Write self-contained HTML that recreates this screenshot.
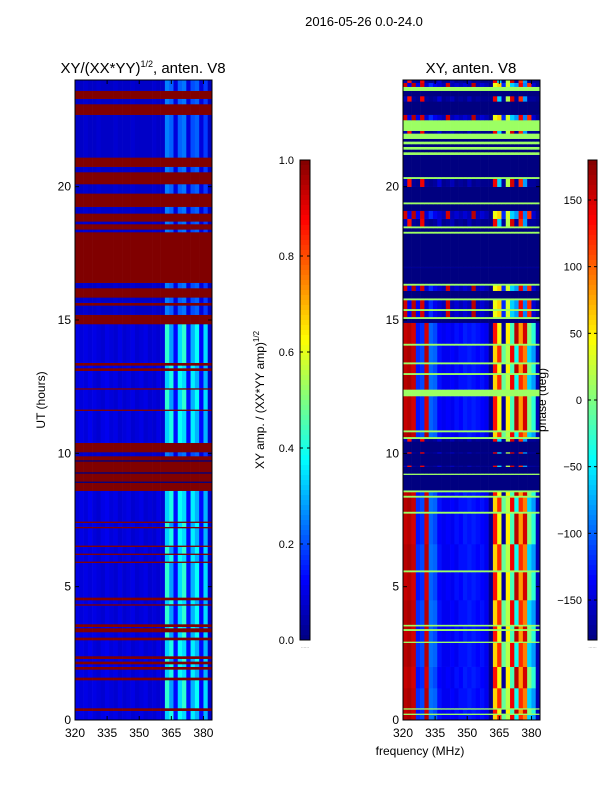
<!DOCTYPE html>
<html><head><meta charset="utf-8">
<style>
body{margin:0;background:#fff;}
svg{display:block;font-family:"Liberation Sans","DejaVu Sans",sans-serif;}
</style></head>
<body>
<svg id="fig" width="600" height="800" viewBox="0 0 600 800" xmlns="http://www.w3.org/2000/svg">
<rect x="0" y="0" width="600" height="800" fill="#fff"/>
<text x="364" y="26" font-size="13" text-anchor="middle">2016-05-26 0.0-24.0</text>
<text x="143" y="73" font-size="15" text-anchor="middle">XY/(XX*YY)<tspan font-size="9" dy="-6">1/2</tspan><tspan dy="6">, anten. V8</tspan></text>
<text x="471" y="73" font-size="15" text-anchor="middle">XY, anten. V8</text>
<text transform="translate(45,400) rotate(-90)" font-size="12" text-anchor="middle">UT (hours)</text>
<text x="420" y="755" font-size="12" text-anchor="middle">frequency (MHz)</text>
<text transform="translate(264,400) rotate(-90)" font-size="12" text-anchor="middle">XY amp. / (XX*YY amp)<tspan font-size="8" dy="-5">1/2</tspan></text>
<text transform="translate(546,400) rotate(-90)" font-size="12" text-anchor="middle">phase (deg)</text>
<g id="left"></g>
<g id="right"></g>
<g id="cb1"></g>
<g id="cb2"></g>
<g id="axes"></g>
</svg>
<script>
// ---- data ----
const freqEdges = [320,322,324,326,328,330,332,334,336,338,340,342,344,346,348,350,352,354,356,358,360,362,364,366,368,370,372,374,376,378,380,382,384];
const xTicks = [320,335,350,365,380];
const yTicks = [0,5,10,15,20];
const ampTicks = [0.0,0.2,0.4,0.6,0.8,1.0];
const phaseTicks = [-150,-100,-50,0,50,100,150];
// amplitude column profiles (one value per 2 MHz column)
const ampA = [0.09,0.1,0.09,0.11,0.09,0.08,0.1,0.11,0.09,0.1,0.08,0.09,0.1,0.08,0.09,0.1,0.08,0.09,0.08,0.1,0.08,0.33,0.4,0.14,0.38,0.34,0.13,0.36,0.3,0.13,0.3,0.07];
const ampB = [0.1,0.09,0.1,0.09,0.1,0.09,0.08,0.1,0.09,0.08,0.1,0.08,0.09,0.1,0.08,0.09,0.1,0.08,0.09,0.08,0.09,0.42,0.28,0.13,0.34,0.42,0.14,0.3,0.38,0.12,0.34,0.07];
const ampC = [0.07,0.07,0.08,0.07,0.07,0.08,0.07,0.07,0.07,0.08,0.07,0.07,0.07,0.08,0.07,0.07,0.07,0.07,0.08,0.07,0.07,0.25,0.22,0.09,0.22,0.24,0.09,0.2,0.22,0.09,0.18,0.06];
// left panel time segments [start hour, end hour, kind]
const ampSegments = [[0,0.35,'A'],[0.35,0.45,'F'],[0.45,1.5,'B'],[1.5,1.6,'F'],[1.6,1.9,'A'],[1.9,2.0,'F'],[2.0,2.1,'A'],[2.1,2.2,'F'],[2.2,2.3,'B'],[2.3,2.4,'F'],[2.4,3.0,'A'],[3.0,3.1,'F'],[3.1,3.3,'B'],[3.3,3.45,'F'],[3.45,3.5,'A'],[3.5,3.6,'F'],[3.6,4.3,'B'],[4.3,4.35,'F'],[4.35,4.5,'A'],[4.5,4.6,'F'],[4.6,5.9,'B'],[5.9,5.95,'F'],[5.95,6.2,'A'],[6.2,6.25,'F'],[6.25,6.5,'B'],[6.5,6.55,'F'],[6.55,7.2,'A'],[7.2,7.25,'F'],[7.25,7.4,'B'],[7.4,7.45,'F'],[7.45,8.6,'A'],[8.6,8.9,'F'],[8.9,8.95,'Z'],[8.95,9.25,'F'],[9.25,9.3,'Z'],[9.3,9.7,'F'],[9.7,9.75,'Z'],[9.75,9.9,'F'],[9.9,10.05,'C'],[10.05,10.4,'F'],[10.4,11.6,'A'],[11.6,11.65,'F'],[11.65,12.4,'B'],[12.4,12.45,'F'],[12.45,13.1,'A'],[13.1,13.2,'F'],[13.2,13.3,'A'],[13.3,13.4,'F'],[13.4,14.85,'B'],[14.85,15.2,'F'],[15.2,15.55,'C'],[15.55,15.65,'F'],[15.65,15.85,'C'],[15.85,16.2,'F'],[16.2,16.4,'C'],[16.4,18.3,'F'],[18.3,18.4,'C'],[18.4,18.6,'F'],[18.6,18.7,'C'],[18.7,19.0,'F'],[19.0,19.25,'C'],[19.25,19.75,'F'],[19.75,20.1,'C'],[20.1,20.55,'F'],[20.55,20.75,'C'],[20.75,21.1,'F'],[21.1,22.7,'C'],[22.7,23.1,'F'],[23.1,23.3,'C'],[23.3,23.6,'F'],[23.6,24,'C']];
// phase column profiles (deg)
const phaseA = [160,165,155,-120,-110,160,-95,-100,-130,-140,-140,-135,-140,-130,-130,-125,-130,-135,-130,-140,-175,60,120,-10,20,140,-40,120,90,-60,-80,-160];
const phaseB = [155,160,150,-130,-120,150,-100,-110,-135,-140,-135,-140,-130,-135,-125,-130,-125,-130,-135,-140,-175,130,40,-170,50,-20,160,80,150,0,-30,-160];
const phaseP = [150,-140,160,-140,150,-150,-120,-140,-150,-160,150,-160,-150,-160,-150,-160,160,-160,-150,-160,-175,40,60,-120,30,-60,-80,140,-90,120,-150,-170];
const phaseS = [-160,130,-170,-175,140,-170,-175,-170,-150,-175,-170,-160,-175,-170,-175,-160,-175,-170,-175,-175,-175,140,-60,-170,20,150,-170,120,-80,-170,-170,-175];
// right panel time segments [start hour, end hour, kind]; N=no data, G=green flag line
const phaseSegments = [[0,0.2,'A'],[0.2,0.25,'G'],[0.25,0.4,'B'],[0.4,0.45,'G'],[0.45,1.2,'A'],[1.2,2.0,'B'],[2.0,2.9,'A'],[2.9,2.95,'G'],[2.95,3.35,'B'],[3.35,3.42,'G'],[3.42,3.52,'B'],[3.52,3.58,'G'],[3.58,4.5,'A'],[4.5,5.55,'B'],[5.55,5.62,'G'],[5.62,6.6,'A'],[6.6,7.75,'B'],[7.75,7.82,'G'],[7.82,8.35,'A'],[8.35,8.42,'G'],[8.42,8.55,'B'],[8.55,8.62,'G'],[8.62,9.2,'N'],[9.2,9.25,'G'],[9.25,9.5,'N'],[9.5,9.55,'S'],[9.55,10.0,'N'],[10.0,10.05,'S'],[10.05,10.45,'N'],[10.45,10.55,'S'],[10.55,10.62,'G'],[10.62,10.8,'A'],[10.8,10.87,'G'],[10.87,12.15,'B'],[12.15,12.4,'G'],[12.4,12.95,'A'],[12.95,13.02,'G'],[13.02,13.35,'B'],[13.35,13.42,'G'],[13.42,14.05,'A'],[14.05,14.12,'G'],[14.12,14.9,'B'],[14.9,15.05,'N'],[15.05,15.12,'G'],[15.12,15.35,'P'],[15.35,15.42,'G'],[15.42,15.75,'P'],[15.75,15.82,'G'],[15.82,16.1,'N'],[16.1,16.3,'P'],[16.3,16.37,'G'],[16.37,16.95,'N'],[16.95,17.0,'W'],[17.0,18.25,'N'],[18.25,18.32,'G'],[18.32,18.45,'N'],[18.45,18.52,'G'],[18.52,18.8,'S'],[18.8,19.1,'P'],[19.1,19.35,'N'],[19.35,19.42,'G'],[19.42,20.0,'N'],[20.0,20.3,'S'],[20.3,20.37,'G'],[20.37,21.2,'N'],[21.2,21.3,'G'],[21.3,21.4,'N'],[21.4,21.5,'G'],[21.5,21.6,'N'],[21.6,21.7,'G'],[21.7,21.8,'N'],[21.8,22.0,'G'],[22.0,22.1,'S'],[22.1,22.5,'G'],[22.5,22.7,'P'],[22.7,23.2,'N'],[23.2,23.4,'S'],[23.4,23.6,'N'],[23.6,23.75,'G'],[23.75,23.9,'P'],[23.9,24,'S']];

// ---- helpers ----
const NS='http://www.w3.org/2000/svg';
function jet(v){v=Math.max(0,Math.min(1,v));const c=t=>Math.round(255*Math.max(0,Math.min(1,1.5-Math.abs(4*v-t))));return `rgb(${c(3)},${c(2)},${c(1)})`;}
function mk(tag,attrs,parent){const e=document.createElementNS(NS,tag);for(const k in attrs)e.setAttribute(k,attrs[k]);parent.appendChild(e);return e;}
const Y0=720,Y1=80;
const yScale=h=>Y0-(h/24)*(Y0-Y1);
const xScaleL=f=>75+(f-320)*(212-75)/64;
const xScaleR=f=>403+(f-320)*(540-403)/64;

function drawHeat(gid,segs,xScale,valFn,name){
  const g=document.getElementById(gid);
  segs.forEach(s=>{
    const y1=yScale(s[1]),y0=yScale(s[0]);
    for(let c=0;c<freqEdges.length-1;c++){
      const x0=xScale(freqEdges[c]),x1=xScale(freqEdges[c+1]);
      const r=mk('rect',{x:x0.toFixed(2),y:y1.toFixed(2),width:(x1-x0+0.3).toFixed(2),height:(y0-y1+0.3).toFixed(2),fill:jet(valFn(s[2],c))},g);
      
      
    }
  });
}
drawHeat('left',ampSegments,xScaleL,(k,c)=>k==='F'?1:k==='Z'?0:k==='A'?ampA[c]:k==='B'?ampB[c]:ampC[c],'amp-cell');
const pv=p=>(p+180)/360;
drawHeat('right',phaseSegments,xScaleR,(k,c)=>{
  if(k==='N')return 0; if(k==='G')return pv(10); if(k==='W')return 0.02;
  const arr=k==='A'?phaseA:k==='B'?phaseB:k==='P'?phaseP:phaseS; return pv(arr[c]);
},'phase-cell');

// axes frames and ticks
const ax=document.getElementById('axes');
[[75,212,xScaleL,'left'],[403,540,xScaleR,'right']].forEach(([xl,xr,xs,nm])=>{
  const f=mk('rect',{x:xl,y:Y1,width:xr-xl,height:Y0-Y1,fill:'none',stroke:'#000','stroke-width':1},ax);
  
  
  xTicks.forEach(t=>{
    const x=xs(t);
    mk('line',{x1:x,y1:Y0,x2:x,y2:Y0-4,stroke:'#000'},ax);
    mk('line',{x1:x,y1:Y1,x2:x,y2:Y1+4,stroke:'#000'},ax);
    const tx=mk('text',{x:x,y:737,'font-size':12,'text-anchor':'middle'},ax);
    tx.textContent=t;
    
    
  });
  yTicks.forEach(t=>{
    const y=yScale(t);
    mk('line',{x1:xl,y1:y,x2:xl+4,y2:y,stroke:'#000'},ax);
    mk('line',{x1:xr,y1:y,x2:xr-4,y2:y,stroke:'#000'},ax);
    const tx=mk('text',{x:xl-4,y:y+4,'font-size':12,'text-anchor':'end'},ax);
    tx.textContent=t;
    
    
  });
});

// colorbars
function colorbar(gid,x,w,ticks,lo,hi,fmt){
  const g=document.getElementById(gid);
  const top=160,bot=640,n=96;
  for(let i=0;i<n;i++){
    const r=mk('rect',{x:x,y:(top+(bot-top)*i/n).toFixed(2),width:w,height:((bot-top)/n+0.5).toFixed(2),fill:jet(1-(i+0.5)/n)},g);
    
    
  }
  mk('rect',{x:x,y:top,width:w,height:bot-top,fill:'none',stroke:'#000'},g);
  ticks.forEach(t=>{
    const y=bot-(t-lo)/(hi-lo)*(bot-top);
    mk('line',{x1:x,y1:y,x2:x+3,y2:y,stroke:'#000'},g);
    mk('line',{x1:x+w,y1:y,x2:x+w-3,y2:y,stroke:'#000'},g);
    const tx=mk('text',{x:x-6,y:y+4,'font-size':11,'text-anchor':'end'},g);
    tx.textContent=fmt(t);
    
    
  });
  const d=mk('text',{x:x+w/2,y:648,'font-size':5,'text-anchor':'middle',fill:'#888'},g);
  d.textContent='......';
}
colorbar('cb1',300,10,ampTicks,0,1,t=>t.toFixed(1));
colorbar('cb2',588,9,phaseTicks,-180,180,t=>t<0?'\u2212'+(-t):String(t));
</script>
</body></html>
